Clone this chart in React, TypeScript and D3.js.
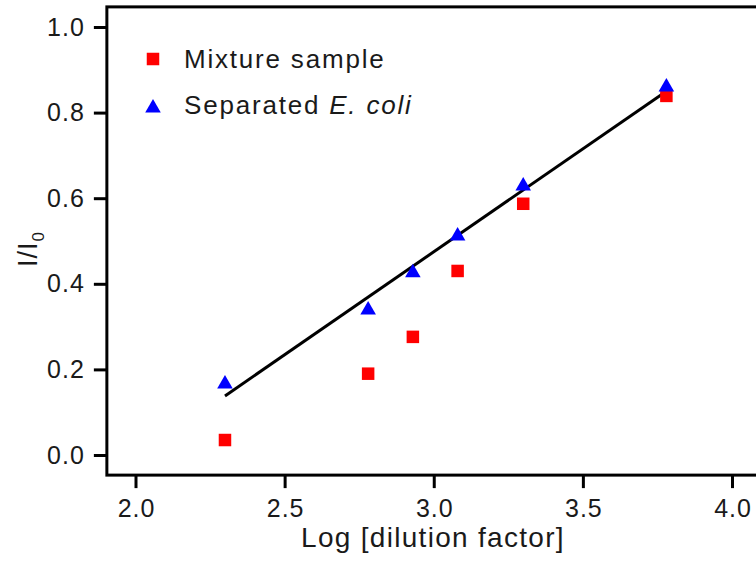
import React, { useEffect, useRef } from "react";
import * as d3 from "d3";

// Log [dilution factor]
const dilution = [2.30, 2.78, 2.93, 3.08, 3.30, 3.78];
// I/I0, mixture sample (red squares)
const mixture = [0.035, 0.19, 0.276, 0.43, 0.587, 0.839];
// I/I0, separated E. coli (blue triangles)
const separated = [0.168, 0.341, 0.428, 0.514, 0.631, 0.862];
// linear fit line end points
const fitX = [2.30, 3.78];
const fitY = [0.138, 0.85];

const xTicks = [2.0, 2.5, 3.0, 3.5, 4.0];
const yTicks = [0.0, 0.2, 0.4, 0.6, 0.8, 1.0];

const App = () => {
  const ref = useRef<SVGSVGElement>(null);

  useEffect(() => {
    const font = "'Liberation Sans', Arial, sans-serif";
    const ink = "#1a1a1a";

    const svg = d3.select(ref.current);
    svg.selectAll("*").remove();

    const x = d3.scaleLinear().domain([2, 4]).range([135.5, 732]);
    const y = d3.scaleLinear().domain([0, 1]).range([455, 27]);

    // frame (right side runs off the picture)
    const left = x(1.904);
    const right = x(4.1);
    const top = y(1.047);
    const bottom = y(-0.047);
    svg.append("rect")
      .attr("x", left)
      .attr("y", top)
      .attr("width", right - left)
      .attr("height", bottom - top)
      .attr("fill", "none")
      .attr("stroke", "#000")
      .attr("stroke-width", 3);

    // x axis
    const xAxis = svg.append("g")
      .attr("transform", `translate(0,${bottom})`)
      .call(d3.axisBottom(x).tickValues(xTicks).tickFormat(d3.format(".1f")).tickSize(13).tickPadding(11));
    xAxis.select(".domain").remove();
    xAxis.selectAll("line").attr("stroke", "#000").attr("stroke-width", 3);
    xAxis.selectAll("text")
      .attr("fill", ink)
      .attr("dx", "0.5px")
      .style("font-family", font)
      .style("font-size", "25px")
      .style("letter-spacing", "1px");

    // y axis
    const yAxis = svg.append("g")
      .attr("transform", `translate(${left},0)`)
      .call(d3.axisLeft(y).tickValues(yTicks).tickFormat(d3.format(".1f")).tickSize(13).tickPadding(9));
    yAxis.select(".domain").remove();
    yAxis.selectAll("line").attr("stroke", "#000").attr("stroke-width", 3);
    yAxis.selectAll("text")
      .attr("fill", ink)
      .style("font-family", font)
      .style("font-size", "25px")
      .style("letter-spacing", "1px");

    // axis titles
    svg.append("text")
      .attr("x", 433)
      .attr("y", 547)
      .attr("text-anchor", "middle")
      .attr("fill", ink)
      .style("font-family", font)
      .style("font-size", "28px")
      .style("letter-spacing", "1.3px")
      .text("Log [dilution factor]");

    const yTitle = svg.append("text")
      .attr("transform", `translate(37,249) rotate(-90)`)
      .attr("text-anchor", "middle")
      .attr("fill", ink)
      .style("font-family", font)
      .style("font-size", "27px")
      .style("letter-spacing", "1px");
    yTitle.append("tspan").text("I/I");
    yTitle.append("tspan").attr("dy", 7).style("font-size", "17px").text("0");

    // fit line
    const line = d3.line<number>()
      .x((d, i) => x(fitX[i]))
      .y(d => y(d));
    svg.append("path")
      .datum(fitY)
      .attr("d", line)
      .attr("fill", "none")
      .attr("stroke", "#000")
      .attr("stroke-width", 3);

    const sq = 12.5;
    const tri = d3.symbol().type(d3.symbolTriangle).size(105);

    // mixture squares
    svg.append("g")
      .attr("fill", "#ff0000")
      .selectAll("rect")
      .data(mixture)
      .enter().append("rect")
      .attr("x", (d, i) => x(dilution[i]) - sq / 2)
      .attr("y", d => y(d) - sq / 2)
      .attr("width", sq)
      .attr("height", sq);

    // separated triangles
    svg.append("g")
      .attr("fill", "#0000ff")
      .selectAll("path")
      .data(separated)
      .enter().append("path")
      .attr("d", tri)
      .attr("transform", (d, i) => `translate(${x(dilution[i])},${y(d) + 1})`);

    // legend
    svg.append("rect")
      .attr("x", 153 - sq / 2)
      .attr("y", 59 - sq / 2)
      .attr("width", sq)
      .attr("height", sq)
      .attr("fill", "#ff0000");
    svg.append("path")
      .attr("d", tri)
      .attr("transform", "translate(153,108)")
      .attr("fill", "#0000ff");

    svg.append("text")
      .attr("x", 184)
      .attr("y", 68)
      .attr("fill", ink)
      .style("font-family", font)
      .style("font-size", "26px")
      .style("letter-spacing", "1.8px")
      .text("Mixture sample");

    const sep = svg.append("text")
      .attr("x", 184)
      .attr("y", 114)
      .attr("fill", ink)
      .style("font-family", font)
      .style("font-size", "26px")
      .style("letter-spacing", "1.8px");
    sep.append("tspan").text("Separated ");
    sep.append("tspan").style("font-style", "italic").text("E. coli");
  }, []);

  return (
    <svg
      ref={ref}
      width={756}
      height={561}
      style={{ position: "absolute", left: 0, top: 0, background: "#fff" }}
    ></svg>
  );
};

export default App;
